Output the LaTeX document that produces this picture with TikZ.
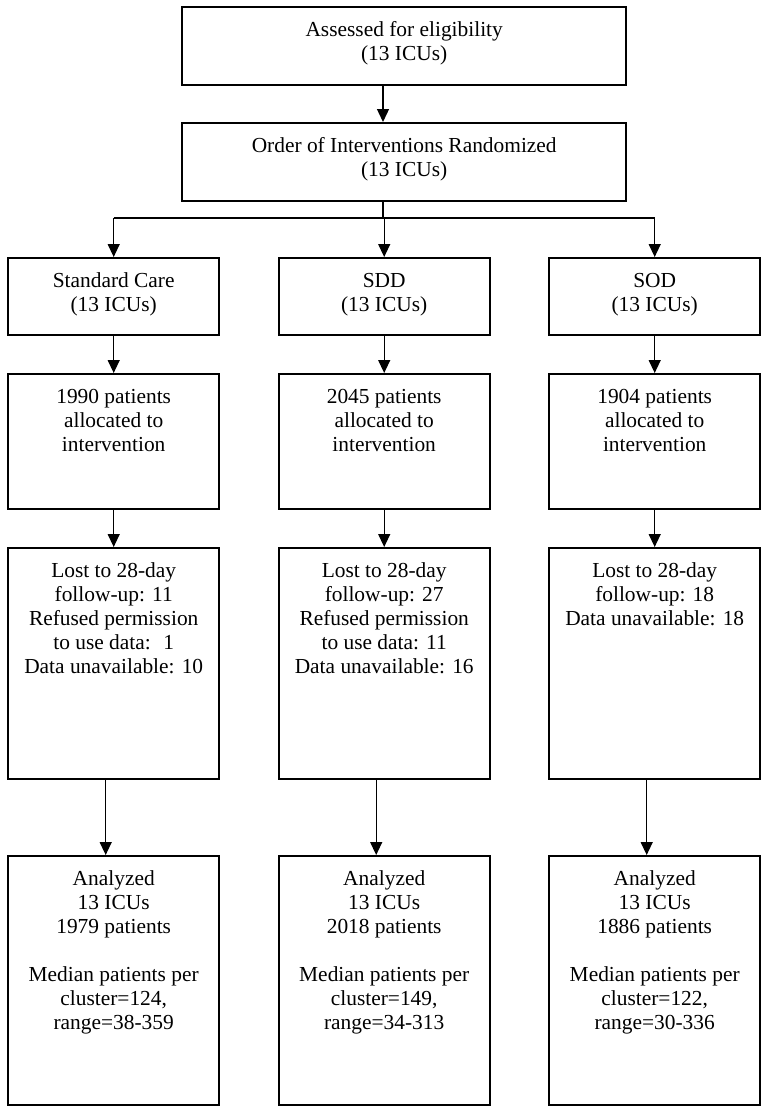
\documentclass[tikz,border=0pt]{standalone}
\usepackage{fontspec}
\setmainfont{Liberation Serif}
\usetikzlibrary{arrows.meta}
\newcommand{\boxtext}[3]{\parbox[c][#2pt][t]{#1pt}{\centering\rule{0pt}{29pt}#3}}
\tikzset{
  flowbox/.style={draw, line width=2.4pt, inner sep=0pt, anchor=north west,
    font=\fontsize{21.4}{24}\selectfont},
  conn/.style={line width=1.3pt, -{Triangle[length=13pt,width=12pt]}},
  plainline/.style={line width=1.3pt}
}
\begin{document}
\begin{tikzpicture}[x=1pt,y=-1pt]
\useasboundingbox (0,0) rectangle (762,1106);
% top boxes
\node[flowbox] (b1) at (181,6) {\boxtext{444}{78}{Assessed for eligibility\\(13 ICUs)}};
\node[flowbox] (b2) at (181,122) {\boxtext{444}{78}{Order of Interventions Randomized\\(13 ICUs)}};
% row 1
\node[flowbox] (r1a) at (7,257) {\boxtext{211}{77}{Standard Care\\(13 ICUs)}};
\node[flowbox] (r1b) at (277.5,257) {\boxtext{211}{77}{SDD\\(13 ICUs)}};
\node[flowbox] (r1c) at (548,257) {\boxtext{211}{77}{SOD\\(13 ICUs)}};
% row 2
\node[flowbox] (r2a) at (7,373) {\boxtext{211}{135}{1990 patients\\allocated to\\intervention}};
\node[flowbox] (r2b) at (277.5,373) {\boxtext{211}{135}{2045 patients\\allocated to\\intervention}};
\node[flowbox] (r2c) at (548,373) {\boxtext{211}{135}{1904 patients\\allocated to\\intervention}};
% row 3
\node[flowbox] (r3a) at (7,547) {\boxtext{211}{231}{Lost to 28-day\\follow-up: 11\\Refused permission\\to use data:~ 1\\Data unavailable: 10}};
\node[flowbox] (r3b) at (277.5,547) {\boxtext{211}{231}{Lost to 28-day\\follow-up: 27\\Refused permission\\to use data: 11\\Data unavailable: 16}};
\node[flowbox] (r3c) at (548,547) {\boxtext{211}{231}{Lost to 28-day\\follow-up: 18\\Data unavailable: 18}};
% row 4
\node[flowbox] (r4a) at (7,855) {\boxtext{211}{249}{Analyzed\\13 ICUs\\1979 patients\\[24pt]Median patients per\\cluster=124,\\range=38-359}};
\node[flowbox] (r4b) at (277.5,855) {\boxtext{211}{249}{Analyzed\\13 ICUs\\2018 patients\\[24pt]Median patients per\\cluster=149,\\range=34-313}};
\node[flowbox] (r4c) at (548,855) {\boxtext{211}{249}{Analyzed\\13 ICUs\\1886 patients\\[24pt]Median patients per\\cluster=122,\\range=30-336}};
% connectors
\coordinate (split) at (383,218);
\draw[conn] (b1.south -| split) -- (b2.north -| split);
\draw[plainline] (b2.south -| split) -- (split);
\draw[plainline] (r1a.north |- split) -- (r1c.north |- split);
\draw[conn] (r1a.north |- split) -- (r1a.north);
\draw[conn] (r1b.north |- split) -- (r1b.north);
\draw[conn] (r1c.north |- split) -- (r1c.north);
\foreach \c in {a,b,c}{
  \draw[conn] (r1\c.south) -- (r2\c.north);
  \draw[conn] (r2\c.south) -- (r3\c.north);
  \draw[conn] ([xshift=-8pt]r3\c.south) -- ([xshift=-8pt]r4\c.north);
}
\end{tikzpicture}
\end{document}
